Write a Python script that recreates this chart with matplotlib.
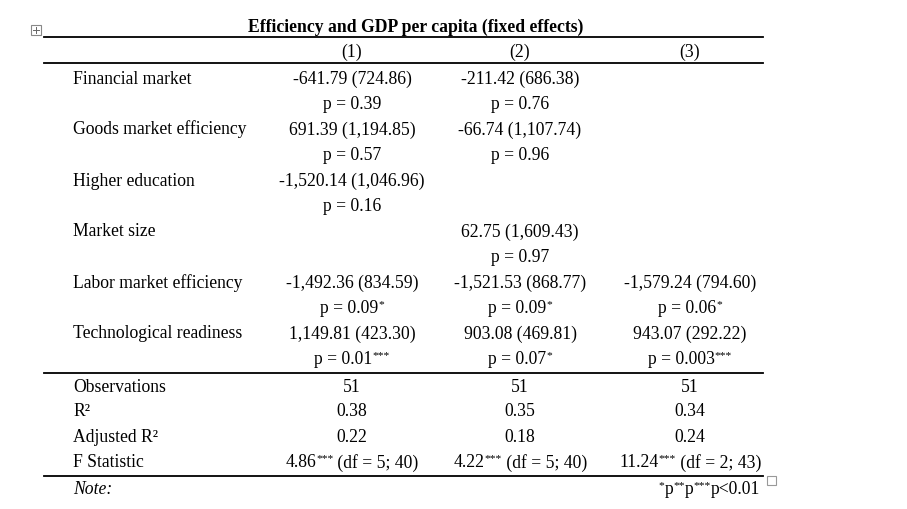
import matplotlib.pyplot as plt
from matplotlib.lines import Line2D
from matplotlib.patches import Rectangle

plt.rcParams["font.family"] = ["Liberation Serif", "DejaVu Serif"]

title = "Efficiency and GDP per capita (fixed effects)"
models = ["(1)", "(2)", "(3)"]
variables = ["Financial market", "Goods market efficiency", "Higher education",
             "Market size", "Labor market efficiency", "Technological readiness"]

# coefficient, standard error, p-value, stars per model (None = not in model)
coef1 = [-641.79, 691.39, -1520.14, None, -1492.36, 1149.81]
se1 = [724.86, 1194.85, 1046.96, None, 834.59, 423.30]
pval1 = ["0.39", "0.57", "0.16", None, "0.09", "0.01"]
stars1 = ["", "", "", None, "*", "***"]

coef2 = [-211.42, -66.74, None, 62.75, -1521.53, 903.08]
se2 = [686.38, 1107.74, None, 1609.43, 868.77, 469.81]
pval2 = ["0.76", "0.96", None, "0.97", "0.09", "0.07"]
stars2 = ["", "", None, "", "*", "*"]

coef3 = [None, None, None, None, -1579.24, 943.07]
se3 = [None, None, None, None, 794.60, 292.22]
pval3 = [None, None, None, None, "0.06", "0.003"]
stars3 = [None, None, None, None, "*", "***"]

stat_labels = ["Observations", "R²", "Adjusted R²", "F Statistic"]
observations = [51, 51, 51]
r2 = ["0.38", "0.35", "0.34"]
adj_r2 = ["0.22", "0.18", "0.24"]
fstat = ["4.86", "4.22", "11.24"]
fstars = ["***", "***", "***"]
fdf = ["5; 40", "5; 40", "2; 43"]

W, H = 907, 510
FS = 12.7
fig = plt.figure(figsize=(W / 100, H / 100), dpi=100)
fig.patch.set_facecolor("white")
renderer = fig.canvas.get_renderer()


def fx(px):
    return px / W


def fy(py):
    return 1 - py / H


# y values below are the visual middle of a line; text sits on a baseline 4.5px lower
def txt(x, y, s, ha="center", **kw):
    return fig.text(fx(x), fy(y + 4.5), s, ha=ha, va="baseline", fontsize=FS,
                    color="black", **kw)


def width_px(s, size):
    t = fig.text(0, 0, s, fontsize=size)
    w = t.get_window_extent(renderer).width
    t.remove()
    return w


def seg_text(x, y, segs, ha="center"):
    # segs: list of (string, is_superscript)
    sizes = [FS * 0.65 if sup else FS for _, sup in segs]
    widths = [width_px(s, sz) for (s, _), sz in zip(segs, sizes)]
    total = sum(widths)
    start = x - total / 2 if ha == "center" else (x - total if ha == "right" else x)
    for (s, sup), sz, w in zip(segs, sizes, widths):
        yy = y + 4.5 - (6 if sup else 0)
        fig.text(fx(start), fy(yy), s, ha="left", va="baseline", fontsize=sz, color="black")
        start += w


def rule(y, lw=1.3):
    fig.add_artist(Line2D([fx(44), fx(763)], [fy(y), fy(y)], color="black", lw=lw))


col_x = [352, 520, 690]
label_x = 73

txt(416, 27, title, fontweight="bold")
rule(38)
for x, m in zip(col_x, models):
    txt(x, 52, m)
rule(64)

row_y0 = 79
row_step = 51
cols = [(coef1, se1, pval1, stars1), (coef2, se2, pval2, stars2), (coef3, se3, pval3, stars3)]
for i, var in enumerate(variables):
    y = row_y0 + i * row_step
    txt(label_x, y, var, ha="left")
    for x, (c, s, p, st) in zip(col_x, cols):
        if c[i] is None:
            continue
        txt(x, y, f"{c[i]:,.2f} ({s[i]:,.2f})")
        segs = [(f"p = {p[i]}", False)]
        if st[i]:
            segs.append((st[i], True))
        seg_text(x, y + 25.5, segs)
rule(374)

stat_y = [388, 412, 437, 463]
for y, lab in zip(stat_y, stat_labels):
    txt(label_x, y, lab, ha="left")
for j, x in enumerate(col_x):
    txt(x, stat_y[0], str(observations[j]))
    txt(x, stat_y[1], r2[j])
    txt(x, stat_y[2], adj_r2[j])
    seg_text(x, stat_y[3], [(fstat[j], False), (fstars[j], True), (f" (df = {fdf[j]})", False)])
rule(477)

txt(label_x, 490, "Note:", ha="left", fontstyle="italic")
seg_text(760, 490, [("*", True), ("p", False), ("**", True), ("p", False),
                    ("***", True), ("p<0.01", False)], ha="right")

# small table handle boxes (word-processor artefacts)
fig.add_artist(Rectangle((fx(31), fy(36)), fx(10), 10 / H, fill=False,
                         ec="#888888", lw=0.8))
fig.add_artist(Line2D([fx(33), fx(39)], [fy(31), fy(31)], color="#666666", lw=0.7))
fig.add_artist(Line2D([fx(36), fx(36)], [fy(28), fy(34)], color="#666666", lw=0.7))
fig.add_artist(Rectangle((fx(767), fy(486)), fx(9), 9 / H, fill=False,
                         ec="#999999", lw=0.8))

fig.savefig("out.png", dpi=100, facecolor="white")
